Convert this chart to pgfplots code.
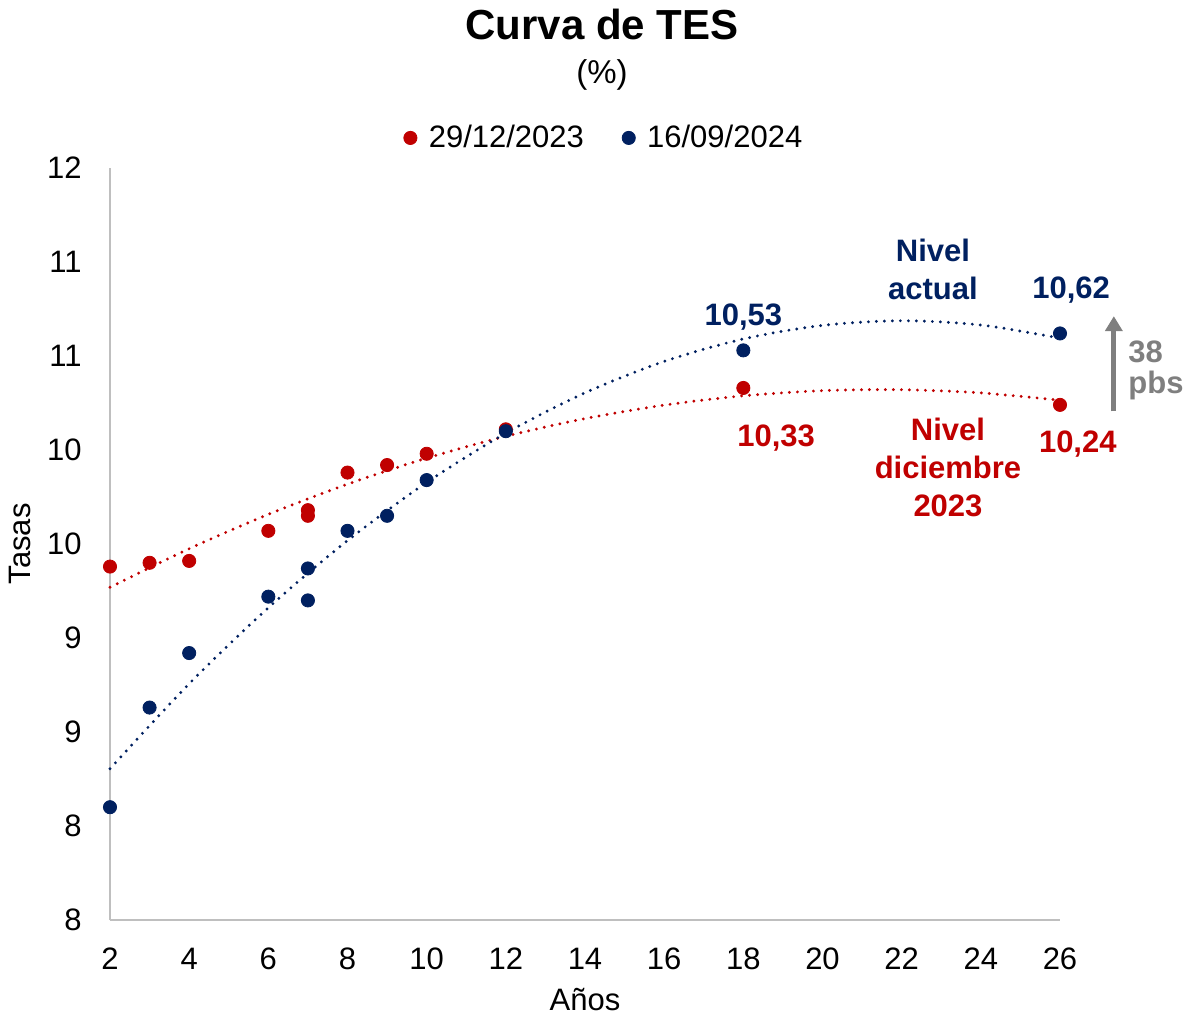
\documentclass[border=0pt]{standalone}
\usepackage{fontspec}
\setmainfont{Liberation Sans}
\usepackage{pgfplots}
\pgfplotsset{compat=1.18}
\usetikzlibrary{arrows.meta}

\definecolor{tesred}{HTML}{C00000}
\definecolor{tesnavy}{HTML}{002060}
\definecolor{axisgray}{HTML}{BFBFBF}
\definecolor{notegray}{HTML}{7F7F7F}

\newcommand{\lblfont}{\fontsize{15.5}{18.5}\selectfont}

\begin{document}
\begin{tikzpicture}
\useasboundingbox (-55pt,-49.5pt) rectangle (537pt,460pt);
\begin{axis}[
  scale only axis, width=475pt, height=376pt,
  xmin=2, xmax=26, ymin=7.5, ymax=11.5,
  xtick={2,4,...,26},
  ytick={7.5,8,...,11.5},
  yticklabels={8,8,9,9,10,10,11,11,12},
  axis x line=bottom, axis y line=left,
  axis line style={axisgray, line width=1pt, -},
  major tick length=0pt,
  tick label style={font=\lblfont, /pgf/number format/assume math mode=true},
  yticklabel style={anchor=east, inner sep=0pt, xshift=-14pt},
  xticklabel style={anchor=base, inner sep=0pt, yshift=-24.5pt},
  xlabel={Años}, ylabel={Tasas},
  label style={font=\lblfont},
  xlabel style={at={(axis description cs:0.5,0)}, anchor=center, yshift=-40pt},
  ylabel style={at={(axis description cs:0,0.5)}, anchor=center, rotate=0, yshift=45pt},
  clip=false,
  legend columns=2,
  legend style={draw=none, fill=none, font=\lblfont,
    at={(axis description cs:0.521,1.04)}, anchor=center,
    /tikz/every even column/.append style={column sep=17pt}},
  legend image code/.code={\draw[#1] plot coordinates {(0pt,0pt)};
    \path (-3.2pt,0pt) (7pt,0pt);},
  trend/.style={line width=1.6pt, dash pattern=on 0pt off 4pt, line cap=round, smooth, forget plot},
]

% quadratic least-squares trend of each curve
\addplot[trend, tesred] coordinates {
  (2,9.2697) (4,9.4748) (6,9.6577) (8,9.8183) (10,9.9567) (12,10.0730)
  (14,10.1670) (16,10.2388) (18,10.2883) (20,10.3157) (22,10.3208)
  (24,10.3038) (26,10.2645)};
\addplot[trend, tesnavy] coordinates {
  (2,8.3049) (4,8.7568) (6,9.1611) (8,9.5181) (10,9.8275) (12,10.0895)
  (14,10.3041) (16,10.4712) (18,10.5908) (20,10.6629) (22,10.6876)
  (24,10.6649) (26,10.5947)};

\addplot[only marks, mark=*, mark size=3.3pt, color=tesred] coordinates {
  (2,9.38) (3,9.40) (4,9.41) (6,9.57) (7,9.68) (7,9.65) (8,9.88)
  (9,9.92) (10,9.98) (12,10.11) (18,10.33) (26,10.24)};
\addlegendentry{29/12/2023}
\addplot[only marks, mark=*, mark size=3.3pt, color=tesnavy] coordinates {
  (2,8.10) (3,8.63) (4,8.92) (6,9.22) (7,9.37) (7,9.20) (8,9.57)
  (9,9.65) (10,9.84) (12,10.10) (18,10.53) (26,10.62)};
\addlegendentry{16/09/2024}

% value labels and notes
\begin{scope}[every node/.style={font=\bfseries\fontsize{15.5}{19}\selectfont, align=center, inner sep=0pt}]
  \node[text=tesnavy] at (axis cs:18,10.705) {10,53};
  \node[text=tesnavy] at (axis cs:26.28,10.85) {10,62};
  \node[text=tesnavy] at (axis cs:22.79,10.96) {Nivel\\actual};
  \node[text=tesred] at (axis cs:18.83,10.062) {10,33};
  \node[text=tesred] at (axis cs:26.45,10.03) {10,24};
  \node[text=tesred] at (axis cs:23.17,9.905) {Nivel\\diciembre\\2023};
  \node[text=notegray, align=left, anchor=west,
        font=\bfseries\fontsize{15.5}{15.5}\selectfont] at (axis cs:27.72,10.425) {38\\pbs};
\end{scope}
\draw[notegray, line width=2.5pt, -{Triangle[width=8.5pt,length=7.5pt]}]
  (axis cs:27.36,10.205) -- (axis cs:27.36,10.712);
\end{axis}

\node[font=\bfseries\fontsize{21}{25}\selectfont, anchor=base] at (246pt,440pt) {Curva de TES};
\node[font=\fontsize{16.5}{20}\selectfont, anchor=base] at (246pt,418pt) {(\%)};
\end{tikzpicture}
\end{document}
